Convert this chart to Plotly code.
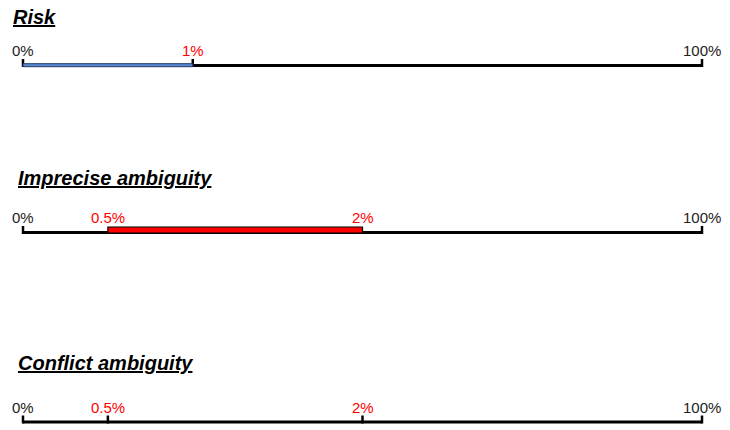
import plotly.graph_objects as go

# ---- data ----
panel_titles = ["Risk", "Imprecise ambiguity", "Conflict ambiguity"]
scale_min = 0
scale_max = 100
risk_value = [1]
imprecise_range = [0.5, 2]
conflict_points = [0.5, 2]
end_labels = ["0%", "100%"]

# broken (schematic) axis: linear 0..2 %, then 2..100 % compressed into 2..4
def pos(v):
    return v if v <= 2 else 2 + (v - 2) / 98 * 2

def pct(v):
    return f"{v:g}%"

W, H = 730, 430
X0_PX, X1_PX = 23, 702
u = (pos(scale_max) - pos(scale_min)) / (X1_PX - X0_PX)
xrange = [pos(scale_min) - X0_PX * u, pos(scale_max) + (W - X1_PX) * u]

# layout positions (pixel rows)
line_y = [65.5, 232.5, 422]
title_y = [17, 178, 363]
label_y = [50, 217, 407]
title_x = [11, 16, 16]

FONT = "Liberation Sans, Arial, sans-serif"
fig = go.Figure()
shapes = []
annotations = []

def hline(x0, x1, y, color="black", width=3):
    fig.add_trace(go.Scatter(x=[pos(x0), pos(x1)], y=[y, y], mode="lines",
                             line=dict(color=color, width=width),
                             hoverinfo="skip", showlegend=False))

def tick(x, y):
    fig.add_trace(go.Scatter(x=[pos(x), pos(x)], y=[y + 1.5, y - 6.5], mode="lines",
                             line=dict(color="black", width=2.5),
                             hoverinfo="skip", showlegend=False))

def label(x, y, text, color="#222222"):
    annotations.append(dict(x=pos(x), y=y, xref="x", yref="y", text=text,
                            showarrow=False, xanchor="center", yanchor="middle",
                            font=dict(family=FONT, size=15, color=color)))

for i, t in enumerate(panel_titles):
    annotations.append(dict(x=title_x[i] / W, y=title_y[i], xref="paper", yref="y",
                            text=f"<b><i><u>{t}</u></i></b>", showarrow=False,
                            xanchor="left", yanchor="middle",
                            font=dict(family=FONT, size=20, color="black")))

# ---- Risk ----
y = line_y[0]
hline(risk_value[0], scale_max, y)
shapes.append(dict(type="rect", xref="x", yref="y",
                   x0=pos(scale_min), x1=pos(risk_value[0]), y0=y - 1.8, y1=y + 1.2,
                   fillcolor="#5B8BD0", line=dict(color="#1F3864", width=1)))
for v in [scale_min, risk_value[0], scale_max]:
    tick(v, y)
label(scale_min, label_y[0], end_labels[0])
label(risk_value[0], label_y[0], pct(risk_value[0]), "#FF0000")
label(scale_max, label_y[0], end_labels[1])

# ---- Imprecise ambiguity ----
y = line_y[1]
hline(scale_min, scale_max, y)
for v in [scale_min, scale_max]:
    tick(v, y)
shapes.append(dict(type="rect", xref="x", yref="y",
                   x0=pos(imprecise_range[0]), x1=pos(imprecise_range[1]),
                   y0=y - 5.5, y1=y + 0.5,
                   fillcolor="#FF0000", line=dict(color="black", width=1.2)))
label(scale_min, label_y[1], end_labels[0])
for v in imprecise_range:
    label(v, label_y[1], pct(v), "#FF0000")
label(scale_max, label_y[1], end_labels[1])

# ---- Conflict ambiguity ----
y = line_y[2]
hline(scale_min, scale_max, y)
for v in [scale_min] + conflict_points + [scale_max]:
    tick(v, y)
label(scale_min, label_y[2], end_labels[0])
for v in conflict_points:
    label(v, label_y[2], pct(v), "#FF0000")
label(scale_max, label_y[2], end_labels[1])

fig.update_layout(
    width=W, height=H,
    margin=dict(l=0, r=0, t=0, b=0),
    paper_bgcolor="white", plot_bgcolor="white",
    xaxis=dict(range=xrange, visible=False, fixedrange=True),
    yaxis=dict(range=[H, 0], visible=False, fixedrange=True),
    shapes=shapes, annotations=annotations,
    showlegend=False,
)
fig.write_html(
    "out.html",
    config={"displayModeBar": False},
    post_script="document.body.style.margin='0';document.body.style.padding='0';"
                "document.body.style.overflow='hidden';",
)
